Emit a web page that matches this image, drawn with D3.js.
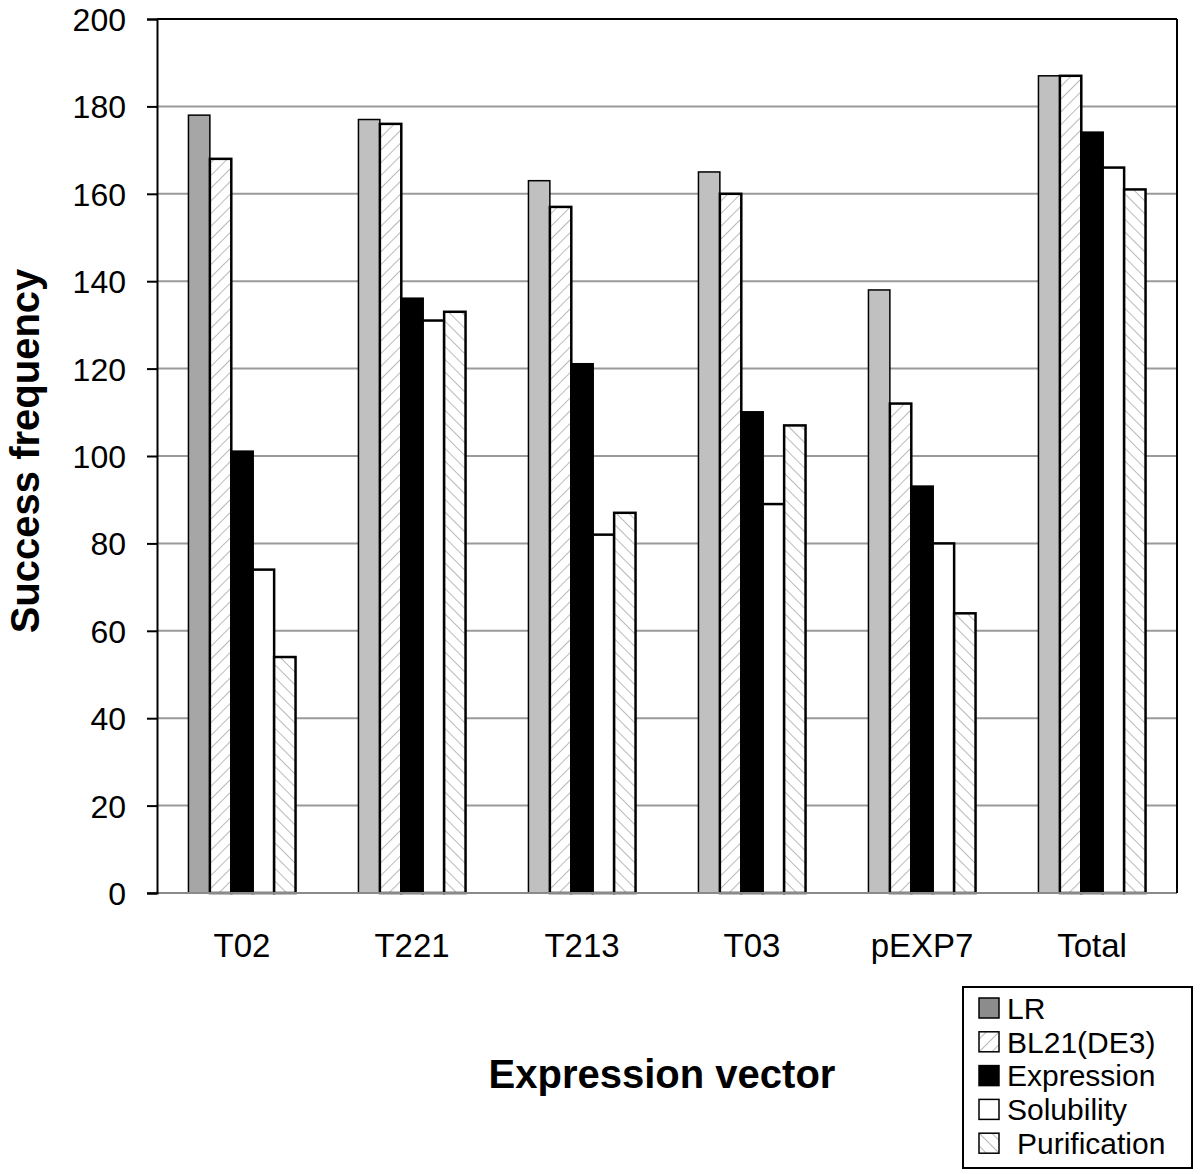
<!DOCTYPE html>
<html lang="en">
  <head>
    <title>Success frequency by expression vector</title>
    <script src="https://d3js.org/d3.v7.min.js"></script>
    <style>
      body {
        margin: 0;
        background: white;
      }
      text {
        font-family: "Liberation Sans", Arial, sans-serif;
        fill: black;
      }
      .grid line {
        stroke: #9a9a9a;
        stroke-width: 2;
      }
    </style>
  </head>
  <body>
    <div id="chart"></div>
    <script>
      let width = 1200;
      let height = 1174;

      // Data
      let vectors = ["T02", "T221", "T213", "T03", "pEXP7", "Total"];
      let stages = ["LR", "BL21(DE3)", "Expression", "Solubility", "Purification"];
      let lr = [178, 177, 163, 165, 138, 187];
      let bl21 = [168, 176, 157, 160, 112, 187];
      let expression = [101, 136, 121, 110, 93, 174];
      let solubility = [74, 131, 82, 89, 80, 166];
      let purification = [54, 133, 87, 107, 64, 161];
      let yTicks = [0, 20, 40, 60, 80, 100, 120, 140, 160, 180, 200];

      let series = [lr, bl21, expression, solubility, purification];

      let margin = { left: 157, right: 23, top: 19, bottom: 281 };
      let plotW = width - margin.left - margin.right;
      let plotH = height - margin.top - margin.bottom;

      let svg = d3
        .select("#chart")
        .append("svg")
        .attr("width", width)
        .attr("height", height);

      // hatch patterns
      let defs = svg.append("defs");
      function hatch(id, dir) {
        let p = defs
          .append("pattern")
          .attr("id", id)
          .attr("patternUnits", "userSpaceOnUse")
          .attr("width", 9)
          .attr("height", 9)
          .attr("patternTransform", "rotate(" + dir + ")");
        p.append("rect").attr("width", 9).attr("height", 9).attr("fill", "white");
        p.append("line")
          .attr("x1", 0)
          .attr("y1", 0)
          .attr("x2", 0)
          .attr("y2", 9)
          .attr("stroke", "#a8a8a8")
          .attr("stroke-width", 1.6);
      }
      hatch("fwd", 45);
      hatch("back", -45);

      let fills = ["#c0c0c0", "url(#fwd)", "black", "white", "url(#back)"];

      let g = svg
        .append("g")
        .attr("transform", "translate(" + margin.left + "," + margin.top + ")");

      let x0 = d3.scaleBand().domain(vectors).range([0, plotW]).paddingInner(0.37).paddingOuter(0.185);
      let x1 = d3.scaleBand().domain(stages).range([0, x0.bandwidth()]);
      let y = d3.scaleLinear().domain([0, 200]).range([plotH, 0]);

      // gridlines
      g.append("g")
        .attr("class", "grid")
        .selectAll("line")
        .data(yTicks.filter((t) => t > 0 && t < 200))
        .enter()
        .append("line")
        .attr("x1", 0)
        .attr("x2", plotW)
        .attr("y1", (d) => y(d))
        .attr("y2", (d) => y(d));

      // bars
      let groups = g
        .append("g")
        .selectAll("g")
        .data(vectors)
        .enter()
        .append("g")
        .attr("transform", (d) => "translate(" + x0(d) + ",0)");

      groups
        .selectAll("rect")
        .data((d, i) =>
          stages.map((s, k) => ({ stage: s, k: k, cat: i, value: series[k][i] }))
        )
        .enter()
        .append("rect")
        .attr("x", (d) => x1(d.stage))
        .attr("y", (d) => y(d.value))
        .attr("width", x1.bandwidth())
        .attr("height", (d) => plotH - y(d.value))
        .attr("fill", (d) => (d.k === 0 && d.cat === 0 ? "#a6a6a6" : fills[d.k]))
        .attr("stroke", "black")
        .attr("stroke-width", (d) => (d.k === 0 ? 1.5 : 2.5));

      // x axis baseline (gray) and frame
      g.append("line")
        .attr("x1", -10)
        .attr("x2", plotW)
        .attr("y1", plotH)
        .attr("y2", plotH)
        .attr("stroke", "#8a8a8a")
        .attr("stroke-width", 2);
      g.append("line")
        .attr("x1", 0)
        .attr("x2", plotW)
        .attr("y1", 0)
        .attr("y2", 0)
        .attr("stroke", "black")
        .attr("stroke-width", 2);
      g.append("line")
        .attr("x1", plotW)
        .attr("x2", plotW)
        .attr("y1", 0)
        .attr("y2", plotH)
        .attr("stroke", "black")
        .attr("stroke-width", 2);

      // y axis
      let yAxis = g
        .append("g")
        .call(d3.axisLeft(y).tickValues(yTicks).tickSize(10).tickPadding(21));
      yAxis.select(".domain").attr("stroke", "black").attr("stroke-width", 2);
      yAxis.selectAll(".tick line").attr("stroke", "black").attr("stroke-width", 2);
      yAxis
        .selectAll("text")
        .style("font-family", '"Liberation Sans", Arial, sans-serif')
        .style("font-size", "32px")
        .attr("dy", "0.36em");

      // x axis labels
      g.append("g")
        .selectAll("text")
        .data(vectors)
        .enter()
        .append("text")
        .attr("x", (d) => x0(d) + x0.bandwidth() / 2)
        .attr("y", plotH + 64)
        .attr("text-anchor", "middle")
        .style("font-size", "33px")
        .text((d) => d);

      // axis titles
      svg
        .append("text")
        .attr("transform", "translate(39,451) rotate(-90)")
        .attr("text-anchor", "middle")
        .style("font-size", "40px")
        .style("font-weight", "bold")
        .text("Success frequency");

      svg
        .append("text")
        .attr("x", 662)
        .attr("y", 1088)
        .attr("text-anchor", "middle")
        .style("font-size", "40px")
        .style("font-weight", "bold")
        .text("Expression vector");

      // legend
      let legend = svg.append("g").attr("transform", "translate(963,987)");
      legend
        .append("rect")
        .attr("width", 229)
        .attr("height", 181)
        .attr("fill", "white")
        .attr("stroke", "black")
        .attr("stroke-width", 2);
      let legendFills = ["#8c8c8c", "url(#fwd)", "black", "white", "url(#back)"];
      let items = legend
        .selectAll("g")
        .data(stages)
        .enter()
        .append("g")
        .attr("transform", (d, i) => "translate(0," + (21 + i * 33.8) + ")");
      items
        .append("rect")
        .attr("x", 16)
        .attr("y", -10)
        .attr("width", 20)
        .attr("height", 20)
        .attr("fill", (d, i) => legendFills[i])
        .attr("stroke", "black")
        .attr("stroke-width", 1.5);
      items
        .append("text")
        .attr("x", (d, i) => (i === 4 ? 54 : 44))
        .attr("y", 0)
        .attr("dy", "0.36em")
        .style("font-size", "30px")
        .attr("textLength", (d, i) => (i === 4 ? null : null))
        .text((d) => d);
    </script>
  </body>
</html>
